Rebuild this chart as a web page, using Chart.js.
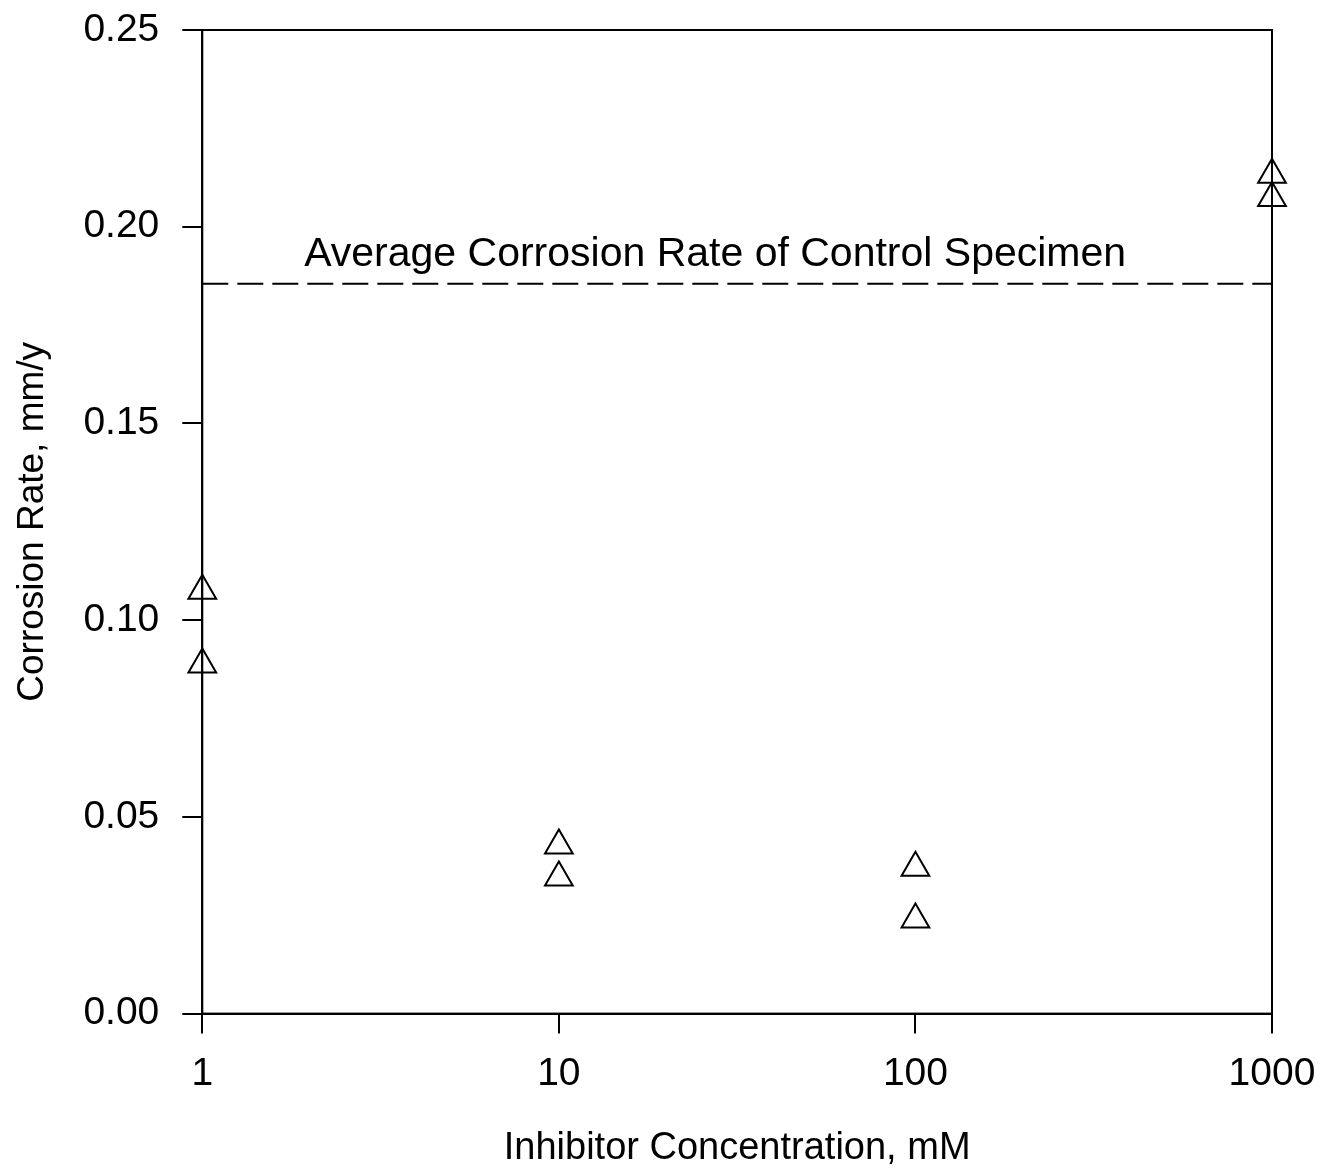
<!DOCTYPE html>
<html>
<head>
<meta charset="utf-8">
<script src="https://cdn.jsdelivr.net/npm/chart.js@4/dist/chart.umd.min.js"></script>
<style>
  html, body { margin: 0; padding: 0; background: #fff; }
  #wrap { width: 1324px; height: 1171px; }
</style>
</head>
<body>
<div id="wrap"><canvas id="corrosionChart" width="1324" height="1171"></canvas></div>
<script>
// Data
const concentrations = [1, 1, 10, 10, 100, 100, 1000, 1000]; // mM
const corrosionRates = [0.1075, 0.0887, 0.0427, 0.0346, 0.0371, 0.0239, 0.2132, 0.2073]; // mm/y
const controlRate = 0.1855; // average corrosion rate of control specimen
const controlRange = [1, 1000];
const xTickValues = [1, 10, 100, 1000];
const yTickValues = [0, 0.05, 0.1, 0.15, 0.2, 0.25];
const controlLabel = 'Average Corrosion Rate of Control Specimen';

const FONT = "'Liberation Sans', Arial, sans-serif";

// Draws the closed frame round the plot and the label over the dashed line
const framePlugin = {
  id: 'frame',
  afterDatasetsDraw(chart) {
    const { ctx, chartArea, scales } = chart;
    ctx.save();
    ctx.strokeStyle = '#000';
    ctx.lineWidth = 2;
    ctx.strokeRect(chartArea.left, chartArea.top, chartArea.right - chartArea.left, chartArea.bottom - chartArea.top);

    ctx.fillStyle = '#000';
    ctx.font = '41px ' + FONT;
    ctx.textAlign = 'center';
    ctx.textBaseline = 'alphabetic';
    const cx = (chartArea.left + chartArea.right) / 2 - 22;
    ctx.fillText(controlLabel, cx, scales.y.getPixelForValue(controlRate) - 18);
    ctx.restore();
  },
};

document.addEventListener('DOMContentLoaded', () => {
  const ctx = document.getElementById('corrosionChart').getContext('2d');

  new Chart(ctx, {
    type: 'scatter',
    data: {
      datasets: [
        {
          label: 'Corrosion rate',
          data: concentrations.map((c, i) => ({ x: c, y: corrosionRates[i] })),
          pointStyle: 'triangle',
          pointRadius: 16,
          pointBorderWidth: 2,
          pointBorderColor: '#000',
          pointBackgroundColor: 'rgba(0,0,0,0)',
          showLine: false,
          clip: false,
        },
        {
          label: 'Control',
          data: controlRange.map((c) => ({ x: c, y: controlRate })),
          showLine: true,
          borderColor: '#000',
          borderWidth: 2,
          borderDash: [26, 9],
          pointRadius: 0,
          fill: false,
        },
      ],
    },
    options: {
      responsive: false,
      animation: false,
      layout: {
        padding: { top: 0, right: 0, bottom: 0, left: 5 },
      },
      plugins: {
        legend: { display: false },
        tooltip: { enabled: false },
      },
      scales: {
        x: {
          type: 'logarithmic',
          min: 1,
          max: 1000,
          afterBuildTicks: (axis) => {
            axis.ticks = xTickValues.map((v) => ({ value: v }));
          },
          afterFit: (axis) => {
            axis.paddingRight = 52;
          },
          ticks: {
            color: '#000',
            font: { family: FONT, size: 39 },
            padding: 17,
            maxRotation: 0,
            callback: (v) => String(v),
          },
          grid: {
            drawOnChartArea: false,
            drawTicks: true,
            tickLength: 20,
            color: '#000',
            lineWidth: 2,
          },
          border: { display: true, color: '#000', width: 2 },
          title: {
            display: true,
            text: 'Inhibitor Concentration, mM',
            color: '#000',
            font: { family: FONT, size: 38 },
            padding: { top: 11, bottom: 0 },
          },
        },
        y: {
          min: 0,
          max: 0.25,
          afterBuildTicks: (axis) => {
            axis.ticks = yTickValues.map((v) => ({ value: v }));
          },
          afterFit: (axis) => {
            axis.paddingTop = 30;
          },
          ticks: {
            color: '#000',
            font: { family: FONT, size: 39 },
            padding: 23,
            callback: (v) => v.toFixed(2),
          },
          grid: {
            drawOnChartArea: false,
            drawTicks: true,
            tickLength: 20,
            color: '#000',
            lineWidth: 2,
          },
          border: { display: true, color: '#000', width: 2 },
          title: {
            display: true,
            text: 'Corrosion Rate, mm/y',
            color: '#000',
            font: { family: FONT, size: 37 },
            padding: { top: 6, bottom: 5 },
          },
        },
      },
    },
    plugins: [framePlugin],
  });
});
</script>
</body>
</html>
